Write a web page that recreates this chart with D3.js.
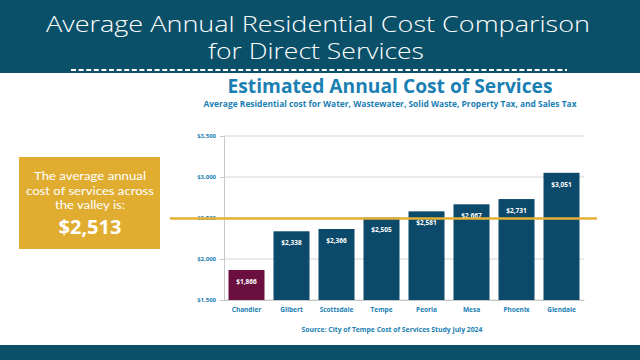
<!DOCTYPE html>
<html><head><meta charset="utf-8">
<script src="https://cdn.jsdelivr.net/npm/d3@7"></script>
<style>body{margin:0;background:#fff}svg{display:block}</style>
</head><body>
<svg id="c" width="640" height="360"></svg>
<script>
const categories = ["Chandler","Gilbert","Scottsdale","Tempe","Peoria","Mesa","Phoenix","Glendale"];
const values = [1866,2338,2366,2505,2581,2667,2731,3051];
const yTicks = [1500,2000,2500,3000,3500];
const average = 2513;
const highlight = "Chandler";

const svg = d3.select("#c");
const teal = "#1a80b3";
const fmt = d3.format("$,");

// header band
svg.append("rect").attr("x",0).attr("y",0).attr("width",640).attr("height",73).attr("fill","#0b5069");
svg.append("text").attr("x",318).attr("y",32).attr("text-anchor","middle")
  .attr("font-family","Open Sans").attr("font-weight",300).attr("font-size",19).attr("fill","#fff")
  .attr("textLength",544).attr("lengthAdjust","spacingAndGlyphs")
  .attr("transform","translate(318,32) scale(1,1.12) translate(-318,-32)")
  .text("Average Annual Residential Cost Comparison");
svg.append("text").attr("x",316).attr("y",59).attr("text-anchor","middle")
  .attr("font-family","Open Sans").attr("font-weight",300).attr("font-size",19).attr("fill","#fff")
  .attr("textLength",216).attr("lengthAdjust","spacingAndGlyphs")
  .attr("transform","translate(316,59) scale(1,1.12) translate(-316,-59)")
  .text("for Direct Services");
svg.append("line").attr("x1",71).attr("x2",567).attr("y1",70).attr("y2",70)
  .attr("stroke","#fff").attr("stroke-width",2).attr("stroke-dasharray","5,2.6");
// bottom band
svg.append("rect").attr("x",0).attr("y",345).attr("width",640).attr("height",15).attr("fill","#0b5069");

// chart titles
svg.append("text").attr("x",390).attr("y",93).attr("text-anchor","middle")
  .attr("font-family","Open Sans").attr("font-weight",700).attr("font-size",19).attr("fill",teal)
  .attr("textLength",325).attr("lengthAdjust","spacingAndGlyphs")
  .text("Estimated Annual Cost of Services");
svg.append("text").attr("x",390).attr("y",107).attr("text-anchor","middle")
  .attr("font-family","Open Sans").attr("font-weight",700).attr("font-size",8.4).attr("fill",teal)
  .attr("textLength",373).attr("lengthAdjust","spacingAndGlyphs")
  .text("Average Residential cost for Water, Wastewater, Solid Waste, Property Tax, and Sales Tax");

const x = d3.scaleBand().domain(categories).range([224,584]).paddingInner(0.2).paddingOuter(0.1);
const y = d3.scaleLinear().domain([1500,3500]).range([300,136]);

// grid
svg.append("g").selectAll("line").data(yTicks).join("line")
  .attr("x1",224).attr("x2",584).attr("y1",d=>y(d)).attr("y2",d=>y(d))
  .attr("stroke","#d4d4d4").attr("stroke-width",1);

const yAxis = svg.append("g").attr("transform","translate(224,0)")
  .call(d3.axisLeft(y).tickValues(yTicks).tickFormat(fmt).tickSize(4).tickPadding(4));
yAxis.select(".domain").attr("stroke","#c8c8c8");
yAxis.selectAll(".tick line").attr("stroke","#c8c8c8");
yAxis.selectAll("text").attr("fill",teal).attr("font-family","Open Sans").attr("font-weight",700).attr("font-size",6);

// bars
svg.append("g").selectAll("rect").data(values).join("rect")
  .attr("x",(d,i)=>x(categories[i])).attr("width",x.bandwidth())
  .attr("y",d=>y(d)).attr("height",d=>y(1500)-y(d))
  .attr("fill",(d,i)=>categories[i]===highlight?"#6a0f3f":"#0b4a6b");

svg.append("g").selectAll("text").data(values).join("text")
  .attr("x",(d,i)=>x(categories[i])+x.bandwidth()/2).attr("y",d=>y(d)+14)
  .attr("text-anchor","middle").attr("font-family","Open Sans").attr("font-weight",700)
  .attr("font-size",6.5).attr("fill","#fff").text(d=>fmt(d));

const xAxis = svg.append("g").attr("transform","translate(0,300)")
  .call(d3.axisBottom(x).tickSize(0).tickPadding(7));
xAxis.select(".domain").attr("stroke","#c8c8c8");
xAxis.selectAll("text").attr("fill",teal).attr("font-family","Open Sans").attr("font-weight",700).attr("font-size",6.5);

// average line
svg.append("line").attr("x1",170).attr("x2",597).attr("y1",y(average)+1.5).attr("y2",y(average)+1.5)
  .attr("stroke","#e5b035").attr("stroke-width",2.5);

svg.append("text").attr("x",392).attr("y",332).attr("text-anchor","middle")
  .attr("font-family","Open Sans").attr("font-weight",700).attr("font-size",6.8).attr("fill",teal)
  .text("Source: City of Tempe Cost of Services Study July 2024");

// left box
svg.append("rect").attr("x",19).attr("y",157).attr("width",141).attr("height",92).attr("fill","#e0ad31");
const bl = ["The average annual","cost of services across","the valley is:"];
const bw = [112,128,70];
svg.append("g").selectAll("text").data(bl).join("text")
  .attr("x",90).attr("y",(d,i)=>180+i*14.5).attr("text-anchor","middle")
  .attr("font-family","Lato").attr("font-size",12).attr("fill","#fff")
  .attr("textLength",(d,i)=>bw[i]).attr("lengthAdjust","spacingAndGlyphs").text(d=>d);
svg.append("text").attr("x",90).attr("y",234).attr("text-anchor","middle")
  .attr("font-family","Open Sans").attr("font-weight",700).attr("font-size",20).attr("fill","#fff")
  .text(fmt(average));
</script>
</body></html>
